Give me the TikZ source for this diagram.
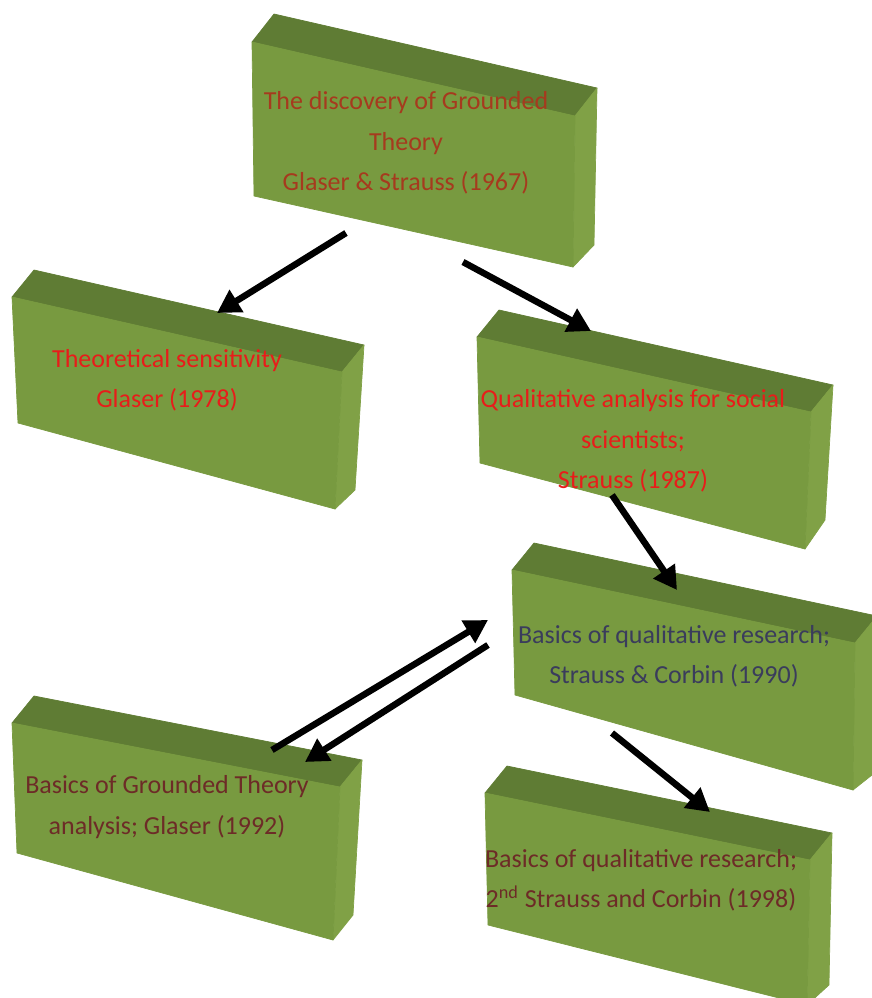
\documentclass[tikz,border=0pt]{standalone}
\usepackage{fontspec}
\setmainfont{Carlito}
\usepackage{xcolor}
\usetikzlibrary{arrows.meta}

\definecolor{frontgreen}{HTML}{789A40}
\definecolor{topgreen}{HTML}{5F7C34}
\definecolor{sidegreen}{HTML}{80A146}
\definecolor{brickred}{HTML}{A63A1E}
\definecolor{brightred}{HTML}{E81C1A}
\definecolor{slateblue}{HTML}{3A3C5C}
\definecolor{maroon}{HTML}{6D2B27}

\tikzset{
  boxfront/.style={fill=frontgreen, draw=frontgreen, line width=0.4pt, line join=round},
  boxtop/.style={fill=topgreen, draw=topgreen, line width=0.4pt, line join=round},
  boxside/.style={fill=sidegreen, draw=sidegreen, line width=0.4pt, line join=round},
  boxtext/.style={align=center, inner sep=0pt, font=\fontsize{14.8}{23}\selectfont},
  flow/.style={line width=0.13cm, -{Triangle[length=0.46cm, width=0.5cm]}}
}

\begin{document}
\begin{tikzpicture}[x=0.02cm, y=-0.02cm]
        \useasboundingbox (0,0) rectangle (872,998);

        % Discovery box
        \filldraw[boxtop] (252,42) -- (575,116) -- (597,88) -- (274,14) -- cycle;
        \filldraw[boxside] (575,116) -- (597,88) -- (594,245) -- (573,267) -- cycle;
        \filldraw[boxfront] (252,42) -- (575,116) -- (573,267) -- (254,196) -- cycle;
        \node[boxtext, text=brickred] (disc) at (406,143) {The discovery of Grounded\\Theory\\Glaser \& Strauss (1967)};

        % Theoretical sensitivity box
        \filldraw[boxtop] (12,297) -- (342,372) -- (364,345) -- (34,270) -- cycle;
        \filldraw[boxside] (342,372) -- (364,345) -- (355,490) -- (335,509) -- cycle;
        \filldraw[boxfront] (12,297) -- (342,372) -- (335,509) -- (18,423) -- cycle;
        \node[boxtext, text=brightred] (theo) at (167,380) {Theoretical sensitivity\\Glaser (1978)};

        % Qualitative analysis box
        \filldraw[boxtop] (477,337) -- (811,412) -- (833,385) -- (499,310) -- cycle;
        \filldraw[boxside] (811,412) -- (833,385) -- (825,520) -- (805,549) -- cycle;
        \filldraw[boxfront] (477,337) -- (811,412) -- (805,549) -- (480,463) -- cycle;
        \node[boxtext, text=brightred] (qual) at (633,441) {Qualitative analysis for social\\scientists;\\Strauss (1987)};

        % Basics 1990 box
        \filldraw[boxtop] (512,570) -- (855,643) -- (877,616) -- (534,543) -- cycle;
        \filldraw[boxside] (855,643) -- (877,616) -- (872,775) -- (853,790) -- cycle;
        \filldraw[boxfront] (512,570) -- (855,643) -- (853,790) -- (515,695) -- cycle;
        \node[boxtext, text=slateblue] (basicsA) at (674,656) {Basics of qualitative research;\\Strauss \& Corbin (1990)};

        % Grounded Theory analysis box
        \filldraw[boxtop] (12,723) -- (340,787) -- (362,760) -- (34,696) -- cycle;
        \filldraw[boxside] (340,787) -- (362,760) -- (353,915) -- (333,940) -- cycle;
        \filldraw[boxfront] (12,723) -- (340,787) -- (333,940) -- (17,853) -- cycle;
        \node[boxtext, text=maroon] (gta) at (167,807) {Basics of Grounded Theory\\analysis; Glaser (1992)};

        % Basics 1998 box
        \filldraw[boxtop] (485,793) -- (810,860) -- (832,833) -- (507,766) -- cycle;
        \filldraw[boxside] (810,860) -- (832,833) -- (829,985) -- (807,1005) -- cycle;
        \filldraw[boxfront] (485,793) -- (810,860) -- (807,1005) -- (488,925) -- cycle;
        \node[boxtext, text=maroon] (basicsB) at (641,880) {Basics of qualitative research;\\2\textsuperscript{nd} Strauss and Corbin (1998)};

        % arrow ends
        \coordinate (disc-l) at (346,233);
        \coordinate (disc-r) at (463,262);
        \coordinate (theo-in) at (217,313);
        \coordinate (qual-in) at (591,331);
        \coordinate (qual-out) at (612,495);
        \coordinate (basicsA-in) at (677,590);
        \coordinate (basicsA-l) at (488,620);
        \coordinate (basicsA-r) at (488,645);
        \coordinate (basicsA-out) at (612,733);
        \coordinate (gta-out) at (272,750);
        \coordinate (gta-in) at (305,762);
        \coordinate (basicsB-in) at (710,812);

        % Arrows
        \draw[flow] (disc-l) -- (theo-in);
        \draw[flow] (disc-r) -- (qual-in);
        \draw[flow] (qual-out) -- (basicsA-in);
        \draw[flow] (gta-out) -- (basicsA-l);
        \draw[flow] (basicsA-r) -- (gta-in);
        \draw[flow] (basicsA-out) -- (basicsB-in);
    \end{tikzpicture}
\end{document}
